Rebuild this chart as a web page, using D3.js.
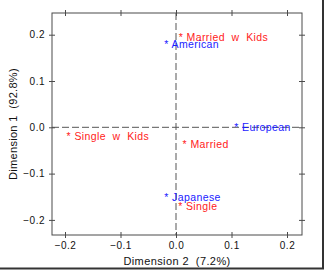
<!DOCTYPE html>
<html><head><meta charset="utf-8">
<script src="https://cdn.jsdelivr.net/npm/d3@7"></script>
<style>
html,body{margin:0;padding:0;background:#fff;}
svg{display:block;font-family:"Liberation Sans",Arial,sans-serif;}
</style></head>
<body>
<svg id="c" width="325" height="270"></svg>
<script>
const labels = ["Married  w  Kids", "American", "European", "Single  w  Kids", "Married", "Japanese", "Single"];
const dim2 = [0.009, -0.017, 0.109, -0.193, 0.016, -0.017, 0.008];
const dim1 = [0.200, 0.184, 0.004, -0.014, -0.032, -0.147, -0.165];
const groups = ["row", "col", "col", "row", "row", "col", "row"];
const xTicks = [-0.2, -0.1, 0.0, 0.1, 0.2];
const yTicks = [-0.2, -0.1, 0.0, 0.1, 0.2];
const xTitle = "Dimension 2  (7.2%)";
const yTitle = "Dimension 1  (92.8%)";

const svg = d3.select("#c");
const L = 52, R = 302, T = 13, B = 235;
const x = d3.scaleLinear().domain([(L-176)/555, (R-176)/555]).range([L, R]);
const y = d3.scaleLinear().domain([(127.3-B)/463, (127.3-T)/463]).range([B, T]);
const color = d3.scaleOrdinal().domain(["row","col"]).range(["#ff1a1a","#1a1aff"]);
const fmt = d3.format(".1f");
const frameCol = "#4a4a4a";

// zero reference lines
svg.append("line").attr("x1", L).attr("x2", R).attr("y1", y(0)).attr("y2", y(0))
  .attr("stroke", "#555").attr("stroke-width", 1).attr("stroke-dasharray", "7,3");
svg.append("line").attr("x1", x(0)).attr("x2", x(0)).attr("y1", T).attr("y2", B)
  .attr("stroke", "#555").attr("stroke-width", 1).attr("stroke-dasharray", "7,3");

// axes
const tk = 3;
const axB = svg.append("g").attr("transform", `translate(0,${B})`)
  .call(d3.axisBottom(x).tickValues(xTicks).tickFormat(fmt).tickSizeInner(tk).tickSizeOuter(0).tickPadding(4));
const axL = svg.append("g").attr("transform", `translate(${L},0)`)
  .call(d3.axisLeft(y).tickValues(yTicks).tickFormat(fmt).tickSizeInner(tk).tickSizeOuter(0).tickPadding(4));
const axT = svg.append("g").attr("transform", `translate(0,${T})`)
  .call(d3.axisTop(x).tickValues(xTicks).tickFormat("").tickSizeInner(tk).tickSizeOuter(0));
const axR = svg.append("g").attr("transform", `translate(${R},0)`)
  .call(d3.axisRight(y).tickValues(yTicks).tickFormat("").tickSizeInner(tk).tickSizeOuter(0));
[axB, axL, axT, axR].forEach(a => {
  a.select(".domain").remove();
  a.selectAll(".tick line").attr("stroke", frameCol);
  a.selectAll("text").attr("font-family", "Liberation Sans, Arial, sans-serif")
    .attr("font-size", "10px").attr("letter-spacing", "0.5px").attr("fill", "#111");
});
// inward tick parts
axB.selectAll(".tick line").attr("y1", -tk);
axT.selectAll(".tick line").attr("y1", tk);
axL.selectAll(".tick line").attr("x1", tk);
axR.selectAll(".tick line").attr("x1", -tk);

// frame
svg.append("rect").attr("x", L).attr("y", T).attr("width", R-L).attr("height", B-T)
  .attr("fill", "none").attr("stroke", frameCol).attr("stroke-width", 1);

// points as asterisks with labels
const data = labels.map((l, i) => ({label: l, x: dim2[i], y: dim1[i], g: groups[i]}));
svg.append("g").selectAll("text").data(data).join("text")
  .attr("x", d => x(d.x) - 2.3)
  .attr("y", d => y(d.y) + 6)
  .attr("fill", d => color(d.g))
  .attr("font-size", "10.5px")
  .attr("letter-spacing", "0.4px")
  .attr("xml:space", "preserve")
  .style("white-space", "pre")
  .text(d => "* " + d.label);

// axis titles
svg.append("text").attr("x", (L+R)/2).attr("y", 265).attr("text-anchor", "middle")
  .attr("font-size", "11px").attr("letter-spacing", "0.4px").attr("fill", "#111")
  .style("white-space", "pre").text(xTitle);
svg.append("text").attr("transform", `translate(17,${(T+B)/2}) rotate(-90)`)
  .attr("text-anchor", "middle")
  .attr("font-size", "11px").attr("letter-spacing", "0.3px").attr("fill", "#111")
  .style("white-space", "pre").text(yTitle);

// image border (right & bottom)
svg.append("line").attr("x1", 323).attr("x2", 323).attr("y1", 0).attr("y2", 269)
  .attr("stroke", "#333").attr("stroke-width", 2);
svg.append("line").attr("x1", 0).attr("x2", 324).attr("y1", 268.5).attr("y2", 268.5)
  .attr("stroke", "#333").attr("stroke-width", 2);
</script>
</body></html>
